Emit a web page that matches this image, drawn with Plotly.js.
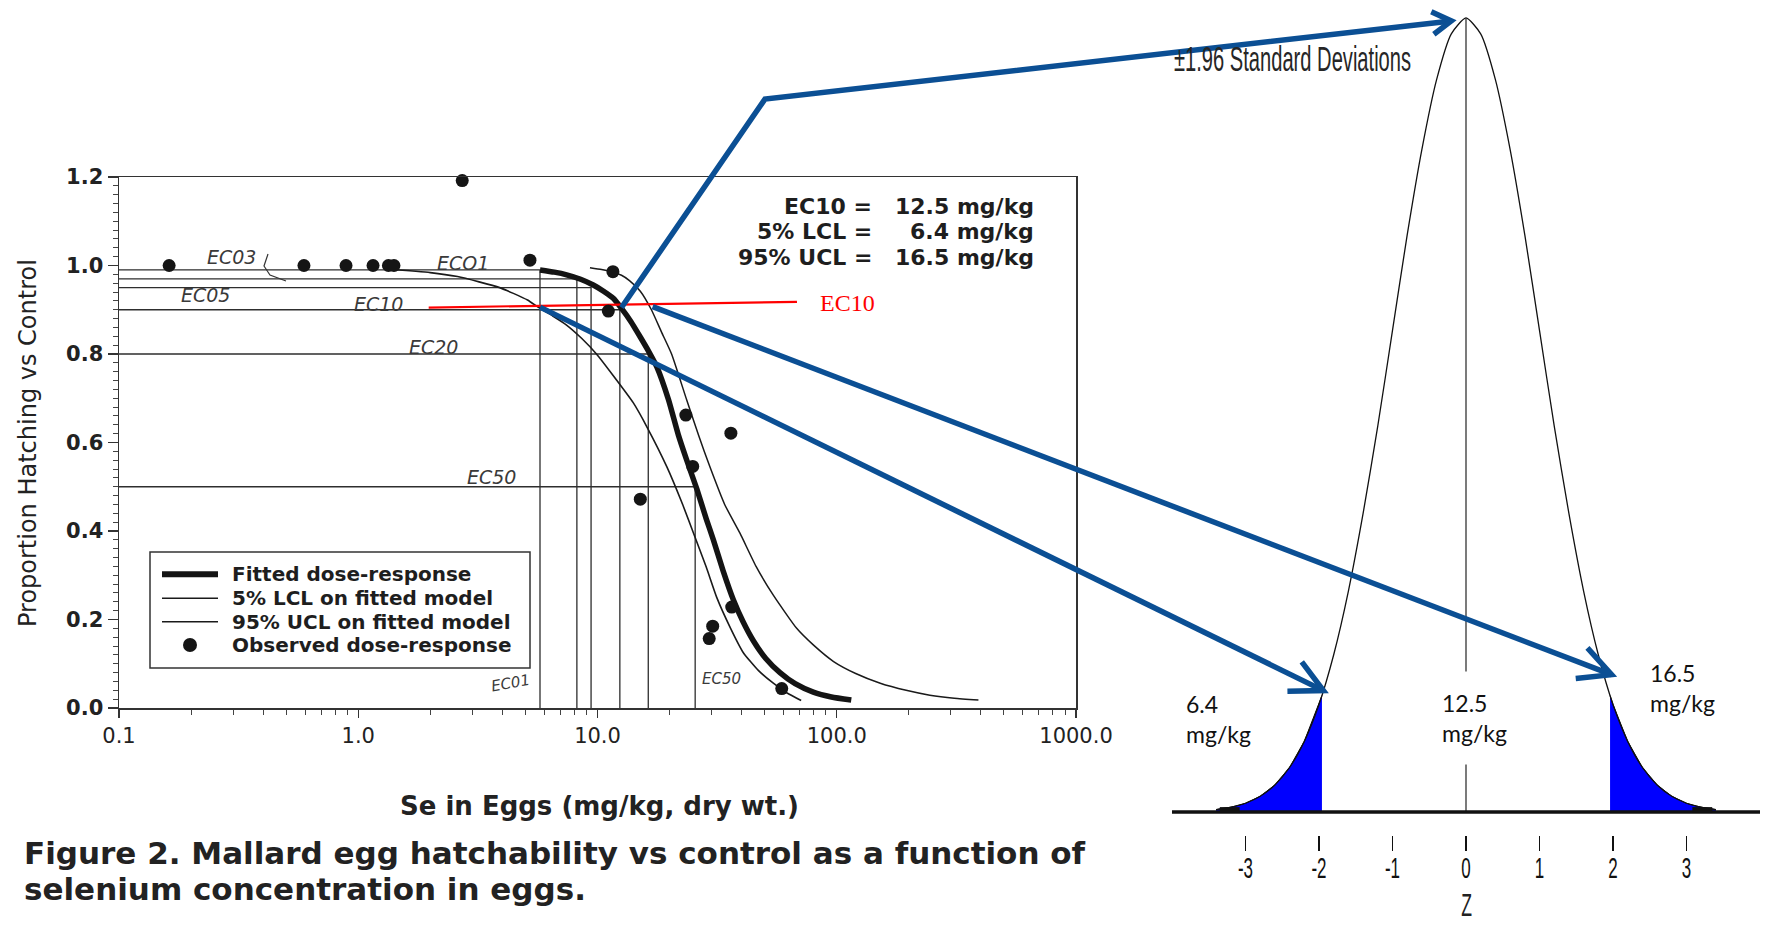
<!DOCTYPE html>
<html><head><meta charset="utf-8">
<script src="https://cdn.plot.ly/plotly-3.0.1.min.js"></script>
<style>html,body{margin:0;padding:0;background:#fff;overflow:hidden}#chart{width:1768px;height:926px}</style>
</head><body><div id="chart"></div>
<script>
// ---------------- DATA ----------------
// Left chart: Mallard egg hatchability vs Se in eggs
const obsX = [0.162, 0.593, 0.889, 1.153, 1.337, 1.41, 2.72, 5.22, 11.6, 11.1, 23.4, 36.1, 25.0, 15.1, 36.4, 30.3, 29.3, 58.9];
const obsY = [1.0, 1.0, 1.0, 1.0, 1.0, 1.0, 1.192, 1.012, 0.986, 0.897, 0.662, 0.621, 0.546, 0.472, 0.228, 0.185, 0.157, 0.044];

const fitX = [5.75, 6.6, 7.43, 8.5, 9.6, 10.6, 11.64, 12.6, 13.8, 15.07, 16.4, 17.7, 19.8, 21.8, 23.6, 26.0, 28.5, 30.5, 33.5, 37.0, 40.5, 44.8, 50.5, 57.9, 67.0, 79.8, 95, 115];
const fitY = [0.990, 0.985, 0.979, 0.969, 0.956, 0.942, 0.926, 0.903, 0.873, 0.839, 0.805, 0.771, 0.697, 0.616, 0.560, 0.495, 0.427, 0.380, 0.310, 0.244, 0.196, 0.152, 0.112, 0.080, 0.055, 0.036, 0.025, 0.018];

const lclX = [1.3, 2.0, 2.6, 3.2, 3.9, 4.45, 5.1, 5.75, 6.5, 7.4, 8.6, 9.9, 11.6, 14.1, 16.1, 19.5, 22.5, 25.2, 28.5, 31.5, 36, 40.7, 47, 54.3, 62, 71];
const lclY = [0.992, 0.984, 0.975, 0.963, 0.950, 0.937, 0.922, 0.903, 0.886, 0.866, 0.835, 0.800, 0.752, 0.690, 0.635, 0.545, 0.465, 0.395, 0.318, 0.250, 0.180, 0.125, 0.085, 0.056, 0.034, 0.017];

const uclX = [9.3, 10.4, 11.6, 12.6, 13.6, 15.1, 16.8, 18.5, 20.4, 23.6, 26.5, 29.5, 34, 39.4, 46, 54.3, 68, 80, 97, 120, 152, 195, 245, 310, 391];
const uclY = [0.995, 0.991, 0.985, 0.978, 0.966, 0.942, 0.900, 0.850, 0.800, 0.696, 0.615, 0.545, 0.460, 0.395, 0.320, 0.255, 0.180, 0.142, 0.105, 0.078, 0.056, 0.040, 0.029, 0.022, 0.018];

const ecLevel = [0.99, 0.97, 0.95, 0.90, 0.80, 0.50];
const ecConc  = [5.75, 8.2, 9.4, 12.4, 16.3, 25.6];

const redLineX = [1.97, 68.2];
const redLineY = [0.905, 0.918];

const xTickVals = [0.1, 1, 10, 100, 1000];
const xTickText = ['0.1', '1.0', '10.0', '100.0', '1000.0'];
const xMinorVals = [0.2,0.3,0.4,0.5,0.6,0.7,0.8,0.9,2,3,4,5,6,7,8,9,20,30,40,50,60,70,80,90,200,300,400,500,600,700,800,900];

const statLabels = ['EC10 =', '5% LCL =', '95% UCL ='];
const statValues = ['12.5 mg/kg', '6.4 mg/kg', '16.5 mg/kg'];
const legendLabels = ['Fitted dose-response', '5% LCL on fitted model', '95% UCL on fitted model', 'Observed dose-response'];
const ecNotes = ['EC03', 'ECO1', 'EC05', 'EC10', 'EC20', 'EC50'];
const ecNotesLow = ['EC01', 'EC50'];

// Right chart: standard normal curve
const zVals = [-3.4,-3.2,-3.0,-2.8,-2.6,-2.4,-2.2,-2.0,-1.8,-1.6,-1.4,-1.2,-1.0,-0.8,-0.6,-0.4,-0.2,0,0.2,0.4,0.6,0.8,1.0,1.2,1.4,1.6,1.8,2.0,2.2,2.4,2.6,2.8,3.0,3.2,3.4];
const density = [0.0012,0.0024,0.0044,0.0079,0.0136,0.0224,0.0355,0.054,0.079,0.111,0.150,0.194,0.242,0.290,0.333,0.368,0.391,0.399,0.391,0.368,0.333,0.290,0.242,0.194,0.150,0.111,0.079,0.054,0.0355,0.0224,0.0136,0.0079,0.0044,0.0024,0.0012];
const tailLeftZ = [-3.4,-3.2,-3.0,-2.8,-2.6,-2.4,-2.2,-2.0,-1.96];
const tailLeftY = [0.0012,0.0024,0.0044,0.0079,0.0136,0.0224,0.0355,0.054,0.0585];
const tailRightZ = [1.96,2.0,2.2,2.4,2.6,2.8,3.0,3.2,3.4];
const tailRightY = [0.0585,0.054,0.0355,0.0224,0.0136,0.0079,0.0044,0.0024,0.0012];
const meanZ = [0, 0];
const meanY = [0, 0.399];
const baseZ = [-4, 4];
const baseY = [0, 0];
const tailMarkZ = [-3.35, -3.08, null, 3.08, 3.35];
const tailMarkY = [0.0012, 0.0012, null, 0.0012, 0.0012];
const zTickVals = [-3, -2, -1, 0, 1, 2, 3];
const zTickText = ['-3', '-2', '-1', '0', '1', '2', '3'];
const boundLabels = ['6.4<br>mg/kg', '12.5<br>mg/kg', '16.5<br>mg/kg'];

// Arrows linking the two charts
const arrowFromX = [12.6, 5.75, 17.0];
const arrowFromY = [0.905, 0.906, 0.907];
const arrowBend = [50.1, 1.376];
const arrowToZ = [-0.2, -1.94, 1.98];
const arrowToY = [0.3975, 0.061, 0.069];

// ---------------- GEOMETRY ----------------
const W = 1768, H = 926;
const L = {x0: 119, x1: 1076, y0: 708, y1: 177, lx0: -1, lx1: 3, ymax: 1.2};
const R = {x0: 1172, x1: 1760, y0: 812, zmin: -4, zmax: 4, ymax: 0.408};
const Rscale = R.y0 / R.ymax;
const RyMin = -8 / Rscale;

function lpx(x, y) { return [L.x0 + (Math.log10(x) - L.lx0) / (L.lx1 - L.lx0) * (L.x1 - L.x0), L.y0 - y / L.ymax * (L.y0 - L.y1)]; }
function rpx(z, y) { return [R.x0 + (z - R.zmin) / (R.zmax - R.zmin) * (R.x1 - R.x0), R.y0 - y * Rscale]; }
const px = v => v / W, py = v => 1 - v / H;
function pathOf(pts) { return 'M ' + pts.map(p => px(p[0]).toFixed(5) + ',' + py(p[1]).toFixed(5)).join(' L '); }

// ---------------- TRACES ----------------
const ecLX = [], ecLY = [];
ecConc.forEach((c, i) => { ecLX.push(0.1, c, c, null); ecLY.push(ecLevel[i], ecLevel[i], 0, null); });

const ink = '#1a1a1a';
const traces = [
  {x: ecLX, y: ecLY, mode: 'lines', line: {color: '#2e2e2e', width: 1.3}, xaxis: 'x', yaxis: 'y', hoverinfo: 'skip'},
  {x: lclX, y: lclY, mode: 'lines', line: {color: ink, width: 1.6, shape: 'spline', smoothing: 0.5}, xaxis: 'x', yaxis: 'y', name: legendLabels[1]},
  {x: uclX, y: uclY, mode: 'lines', line: {color: ink, width: 1.5, shape: 'spline', smoothing: 0.5}, xaxis: 'x', yaxis: 'y', name: legendLabels[2]},
  {x: fitX, y: fitY, mode: 'lines', line: {color: '#141414', width: 5.5, shape: 'spline', smoothing: 0.5}, xaxis: 'x', yaxis: 'y', name: legendLabels[0]},
  {x: redLineX, y: redLineY, mode: 'lines', line: {color: '#ff0000', width: 2.2}, xaxis: 'x', yaxis: 'y', hoverinfo: 'skip'},
  {x: obsX, y: obsY, mode: 'markers', marker: {color: '#151515', size: 13}, cliponaxis: false, xaxis: 'x', yaxis: 'y', name: legendLabels[3]},
  {x: tailLeftZ, y: tailLeftY, mode: 'lines', fill: 'tozeroy', fillcolor: '#0000ff', line: {color: '#000', width: 1}, xaxis: 'x2', yaxis: 'y2'},
  {x: tailRightZ, y: tailRightY, mode: 'lines', fill: 'tozeroy', fillcolor: '#0000ff', line: {color: '#000', width: 1}, xaxis: 'x2', yaxis: 'y2'},
  {x: zVals, y: density, mode: 'lines', line: {color: '#111', width: 1.3, shape: 'spline', smoothing: 0.6}, xaxis: 'x2', yaxis: 'y2'},
  {x: meanZ, y: meanY, mode: 'lines', line: {color: '#333', width: 1.3}, xaxis: 'x2', yaxis: 'y2'},
  {x: baseZ, y: baseY, mode: 'lines', line: {color: '#111', width: 3.5}, xaxis: 'x2', yaxis: 'y2'},
  {x: tailMarkZ, y: tailMarkY, mode: 'lines', line: {color: '#111', width: 5}, xaxis: 'x2', yaxis: 'y2'}
];

// ---------------- SHAPES ----------------
const blue = '#0b4f94';
const shapes = [];
function arrowHead(prev, tip, len, deg) {
  const dx = tip[0] - prev[0], dy = tip[1] - prev[1];
  const n = Math.hypot(dx, dy), ux = dx / n, uy = dy / n;
  const a = deg * Math.PI / 180;
  const arm = s => [tip[0] - len * (ux * Math.cos(s * a) - uy * Math.sin(s * a)), tip[1] - len * (ux * Math.sin(s * a) + uy * Math.cos(s * a))];
  return [arm(1), tip, arm(-1)];
}
const headLen = [22, 36, 36], headDeg = [31, 27, 27];
for (let i = 0; i < 3; i++) {
  const pts = [lpx(arrowFromX[i], arrowFromY[i])];
  if (i === 0) pts.push(lpx(arrowBend[0], arrowBend[1]));
  pts.push(rpx(arrowToZ[i], arrowToY[i]));
  shapes.push({type: 'path', xref: 'paper', yref: 'paper', path: pathOf(pts), line: {color: blue, width: 5.5}, layer: 'above'});
  const hd = arrowHead(pts[pts.length - 2], pts[pts.length - 1], headLen[i], headDeg[i]);
  shapes.push({type: 'path', xref: 'paper', yref: 'paper', path: pathOf(hd), line: {color: blue, width: 5.5}, layer: 'above'});
}
// manual legend box and samples
const LG = {x0: 150, x1: 530, y0: 552, y1: 668, sx0: 162, sx1: 218, tx: 230, rows: [574.3, 598.3, 621.7, 645]};
shapes.push({type: 'rect', xref: 'paper', yref: 'paper', x0: px(LG.x0), x1: px(LG.x1), y0: py(LG.y1), y1: py(LG.y0), line: {color: '#333', width: 1.5}, fillcolor: 'rgba(255,255,255,0)'});
shapes.push({type: 'line', xref: 'paper', yref: 'paper', x0: px(LG.sx0), x1: px(LG.sx1), y0: py(LG.rows[0]), y1: py(LG.rows[0]), line: {color: '#141414', width: 6}});
shapes.push({type: 'line', xref: 'paper', yref: 'paper', x0: px(LG.sx0), x1: px(LG.sx1), y0: py(LG.rows[1]), y1: py(LG.rows[1]), line: {color: ink, width: 1.6}});
shapes.push({type: 'line', xref: 'paper', yref: 'paper', x0: px(LG.sx0), x1: px(LG.sx1), y0: py(LG.rows[2]), y1: py(LG.rows[2]), line: {color: ink, width: 1.4}});
shapes.push({type: 'circle', xref: 'paper', yref: 'paper', x0: px(183), x1: px(197), y0: py(LG.rows[3] + 7), y1: py(LG.rows[3] - 7), line: {width: 0}, fillcolor: '#151515'});
// little hook from EC03 note to its line
shapes.push({type: 'path', xref: 'paper', yref: 'paper', path: pathOf([[268, 254], [264, 266], [270, 275], [286, 281]]), line: {color: '#333', width: 1.2}});

// ---------------- ANNOTATIONS ----------------
const ann = [];
function note(text, x, y, opts) {
  ann.push(Object.assign({text: text, x: px(x), y: py(y), xref: 'paper', yref: 'paper', showarrow: false, xanchor: 'center', yanchor: 'middle'}, opts));
}
const sansB = 'DejaVu Sans, Verdana, sans-serif';
// axis titles and caption
note('Proportion Hatching vs Control', 28, 443, {textangle: -90, font: {family: sansB, size: 24, color: '#222'}});
note('<b>Se in Eggs (mg/kg, dry wt.)</b>', 599, 806, {font: {family: sansB, size: 26, color: '#222'}});
note('<b>Figure 2. Mallard egg hatchability vs control as a function of</b>', 22, 853, {xanchor: 'left', font: {family: sansB, size: 31, color: '#222'}});
note('<b>selenium concentration in eggs.</b>', 22, 889, {xanchor: 'left', font: {family: sansB, size: 31, color: '#222'}});
// stats block
const statRows = [206.5, 231.5, 257.5];
statLabels.forEach((t, i) => {
  note('<b>' + t + '</b>', 874, statRows[i], {xanchor: 'right', font: {family: sansB, size: 22, color: '#1e1e1e'}});
  note('<b>' + statValues[i] + '</b>', 1036, statRows[i], {xanchor: 'right', font: {family: sansB, size: 22, color: '#1e1e1e'}});
});
// legend texts
legendLabels.forEach((t, i) => note('<b>' + t + '</b>', LG.tx, LG.rows[i], {xanchor: 'left', font: {family: sansB, size: 20, color: '#1e1e1e'}}));
// handwritten EC notes
const hand = 'DejaVu Sans, sans-serif';
const notePos = [[231, 257], [463, 263], [205, 295], [378, 304], [433, 347], [491, 477]];
ecNotes.forEach((t, i) => note('<i>' + t + '</i>', notePos[i][0], notePos[i][1], {font: {family: hand, size: 19, color: '#3a3a3a'}}));
const notePosLow = [[511, 683], [721, 679]];
ecNotesLow.forEach((t, i) => note('<i>' + t + '</i>', notePosLow[i][0], notePosLow[i][1], {textangle: i === 0 ? -10 : 0, font: {family: hand, size: 15, color: '#3a3a3a'}}));
// red EC10 label
note('EC10', 818, 303, {xanchor: 'left', font: {family: 'Liberation Serif, serif', size: 24, color: '#ff0000'}});
// right chart texts
const arialish = 'Liberation Sans, Arial, sans-serif';
note('±1.96 Standard Deviations', 1172, 59, {xanchor: 'left', font: {family: arialish, size: 33, color: '#262626'}});
note('Z', 1466, 905, {font: {family: arialish, size: 22, color: '#222'}});
const calib = 'Lato, Open Sans, sans-serif';
note(boundLabels[0], 1184, 719, {xanchor: 'left', align: 'left', font: {family: calib, size: 23, color: '#111'}});
note(boundLabels[1], 1424, 718, {xanchor: 'left', align: 'left', bgcolor: '#ffffff', borderpad: 17, font: {family: calib, size: 23, color: '#111'}});
note(boundLabels[2], 1648, 688, {xanchor: 'left', align: 'left', font: {family: calib, size: 23, color: '#111'}});

// ---------------- LAYOUT ----------------
const layout = {
  width: W, height: H,
  margin: {l: 0, r: 0, t: 0, b: 0, pad: 0},
  paper_bgcolor: '#ffffff', plot_bgcolor: 'rgba(0,0,0,0)',
  showlegend: false,
  xaxis: {
    type: 'log', domain: [L.x0 / W, L.x1 / W], range: [L.lx0, L.lx1], anchor: 'y',
    showline: true, mirror: true, linecolor: '#333', linewidth: 1.5,
    showgrid: false, zeroline: false,
    ticks: 'outside', ticklen: 8, tickwidth: 1.3, tickcolor: '#333',
    tickmode: 'array', tickvals: xTickVals, ticktext: xTickText,
    tickfont: {family: sansB, size: 21, color: '#222'},
    minor: {ticks: 'outside', ticklen: 5, tickwidth: 1, tickcolor: '#444', tickmode: 'array', tickvals: xMinorVals, showgrid: false}
  },
  yaxis: {
    domain: [1 - L.y0 / H, 1 - L.y1 / H], range: [0, L.ymax], anchor: 'x',
    showline: true, mirror: true, linecolor: '#333', linewidth: 1.5,
    showgrid: false, zeroline: false,
    ticks: 'outside', ticklen: 10, tickwidth: 1.3, tickcolor: '#333',
    dtick: 0.2, tick0: 0, tickformat: '.1f',
    ticklabelstandoff: 0,
    tickfont: {family: sansB, size: 21, color: '#222', weight: 'bold'},
    minor: {ticks: 'outside', ticklen: 5, tickwidth: 1, tickcolor: '#444', dtick: 0.02, showgrid: false}
  },
  xaxis2: {
    domain: [R.x0 / W, R.x1 / W], range: [R.zmin, R.zmax], anchor: 'free', position: 1 - 835 / H,
    showline: false, showgrid: false, zeroline: false,
    ticks: 'outside', ticklen: 15, tickwidth: 1.5, tickcolor: '#111',
    ticklabelstandoff: -4,
    tickmode: 'array', tickvals: zTickVals, ticktext: zTickText,
    tickfont: {family: arialish, size: 20, color: '#111'}
  },
  yaxis2: {
    domain: [1 - (R.y0 - RyMin * Rscale) / H, 1], range: [RyMin, R.ymax], anchor: 'x2',
    visible: false, showgrid: false, zeroline: false
  },
  shapes: shapes,
  annotations: ann
};

// narrow, tall lettering of the right-hand image (stretch text about an anchor of its box)
function stretch(el, sx, sy, ax, ay) {
  try {
    const b = el.getBBox();
    const cx = b.x + b.width * ax, cy = b.y + b.height * ay;
    const prev = el.getAttribute('transform') || '';
    el.setAttribute('transform', prev + ' translate(' + cx + ',' + cy + ') scale(' + sx + ',' + sy + ') translate(' + (-cx) + ',' + (-cy) + ')');
  } catch (e) {}
}

Plotly.newPlot('chart', traces, layout, {staticPlot: true, displayModeBar: false}).then(function () {
  document.querySelectorAll('.annotation-text').forEach(function (t) {
    const s = t.textContent;
    if (s.indexOf('Standard Deviations') >= 0) stretch(t, 0.61, 1.05, 0, 0.5);
    else if (s === 'Z') stretch(t, 0.8, 1.4, 0.5, 0.5);
  });
  document.querySelectorAll('.x2tick text').forEach(function (t) { stretch(t, 0.85, 1.45, 0.5, 0.1); });
});
</script>
</body></html>
